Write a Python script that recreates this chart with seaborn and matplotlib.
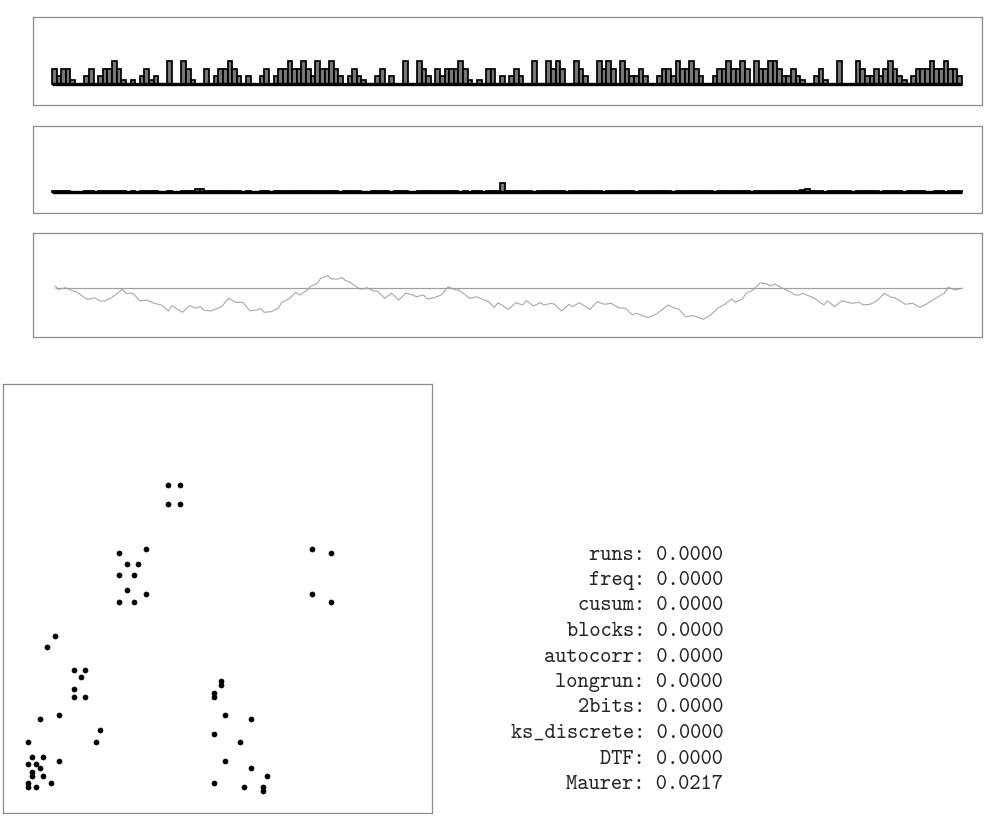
import matplotlib
matplotlib.use("Agg")
import matplotlib.pyplot as plt
import seaborn as sns

# bar heights, top strip
byte_counts = [4, 2, 4, 4, 1, 0, 0, 2, 4, 0, 2, 4, 4, 6, 4, 1, 0, 1, 0, 2,
               4, 1, 2, 0, 0, 6, 0, 0, 6, 4, 1, 0,
               0, 4, 0, 2, 4, 4, 6, 4, 2, 0, 2, 0, 0, 2, 4, 0, 2, 4, 4, 6,
               4, 4, 6, 4, 2, 6, 4, 4, 6, 4, 2, 0, 2, 4,
               2, 1, 0, 0, 2, 4, 0, 2, 0, 0, 6, 0, 0, 6, 4, 2, 0, 4, 2, 4,
               4, 4, 6, 4, 1, 0, 1, 0, 4, 4, 0, 2,
               0, 2, 4, 2, 0, 0, 6, 0, 0, 6, 4, 6, 4, 0, 0, 6, 4, 2, 0, 0,
               6, 4, 6, 4, 0, 6, 4, 2, 2, 4, 2, 0, 0, 2, 4, 4, 2, 6, 4, 4,
               6, 4, 2, 0, 0, 2, 4, 4, 6, 4, 4, 6, 4, 0, 6, 4, 4, 6, 6, 4,
               2, 2, 4, 2, 1, 0, 0, 2, 4, 1, 0, 0, 6, 0, 0, 0, 6, 4, 2, 2,
               4, 2, 4, 6, 4, 2, 1, 0, 2, 4, 4, 4, 6, 4, 4, 6, 4, 4, 2]

# bar heights, second strip
run_counts = [0.3, 0.3, 0.3, 0.3, 0, 0, 0, 0.3, 0.3, 0, 0.3, 0.3, 0.3, 0.3, 0.3, 0.3, 0, 0.3, 0, 0.3,
              0.3, 0.3, 0.3, 0, 0, 0.3, 0, 0, 0.3, 0.3, 0.3, 0.7, 0.7, 0.3, 0.3, 0.3, 0.3, 0.3, 0.3, 0.3,
              0.3, 0, 0.3, 0, 0, 0.3, 0.3, 0, 0.3, 0.3, 0.3, 0.3, 0.3, 0.3, 0.3, 0.3, 0.3, 0.3, 0.3, 0.3,
              0.3, 0.3, 0, 0.3, 0.3, 0.3, 0.3, 0, 0, 0.3, 0.3, 0.3, 0.3, 0, 0.3, 0.3, 0.3, 0, 0, 0.3,
              0.3, 0.3, 0.3, 0.3, 0.3, 0.3, 0.3, 0.3, 0, 0.3, 0, 0.3, 0.3, 0, 0.3, 0.3, 0.3, 2.5, 0.3, 0.3,
              0.3, 0.3, 0.3, 0.3, 0, 0.3, 0.3, 0.3, 0.3, 0.3, 0.3, 0, 0.3, 0.3, 0.3, 0.3, 0.3, 0.3, 0.3, 0,
              0.3, 0.3, 0.3, 0.3, 0.3, 0.3, 0, 0.3, 0.3, 0.3, 0.3, 0.3, 0.3, 0.3, 0, 0.3, 0.3, 0.3, 0.3, 0.3,
              0.3, 0.3, 0.3, 0, 0.3, 0.3, 0.3, 0.3, 0.3, 0.3, 0.3, 0, 0.3, 0.3, 0.3, 0.3, 0.3, 0.3, 0.3, 0.3,
              0.3, 0.3, 0.5, 0.8, 0.3, 0.3, 0.3, 0, 0.3, 0.3, 0.3, 0.3, 0.3, 0, 0.3, 0.3, 0.3, 0.3, 0.3, 0,
              0.3, 0.3, 0.3, 0.3, 0, 0.3, 0.3, 0.3, 0.3, 0, 0, 0.3, 0.3, 0, 0.3, 0.3, 0.3]

# cumulative sum walk
walk_step = [0, 1, 3, 5, 6, 9, 10, 11, 13, 14, 16, 19, 20, 22, 24, 26, 28, 30, 32, 33,
             36, 38, 40, 41, 42, 44, 47, 49, 51, 53, 55, 57, 58, 59, 61, 63, 64, 66, 68, 69,
             71, 72, 74, 75, 77, 78, 80, 81, 82, 83, 86, 87, 88, 90, 91, 93, 95, 97, 99, 101,
             102, 104, 105, 107, 109, 111, 113, 114, 117, 118, 119, 121, 122, 124, 125, 128, 130, 132, 133, 135,
             137, 138, 140, 141, 143, 145, 146, 148, 151, 153, 155, 157, 159, 161, 163, 164, 167, 168, 170, 173,
             175, 176, 178, 180, 181, 183, 185, 187, 189, 191, 192, 194, 195, 197, 199, 201, 202, 203, 205, 206,
             209, 210, 211, 214, 215, 217, 218, 220, 222, 223, 225, 227, 228, 230, 232, 234, 236, 237, 240, 242,
             244, 246, 248, 250, 251, 252, 254, 255, 256]
walk_value = [2.3, -1.0, 0.6, -2.7, -3.4, -11.0, -10.7, -9.4, -12.7, -12.7, -9.4, -1.0, -5.0, -5.0, -12.7, -11.7, -15.0, -16.7, -22.7, -17.4,
              -24.0, -17.4, -20.0, -18.4, -21.7, -22.7, -18.4, -10.0, -14.0, -14.0, -22.4, -21.7, -20.0, -24.0, -23.4, -20.0, -14.0, -10.7, -4.0, -6.7,
              -2.4, 1.6, 5.0, 10.0, 12.6, 9.3, 9.3, 11.0, 7.6, 6.6, -0.7, -0.7, 0.6, -2.7, -2.7, -10.0, -5.0, -11.7, -5.0, -6.7,
              -8.4, -6.7, -10.7, -9.4, -6.7, 1.6, -1.7, -1.7, -10.0, -9.4, -8.4, -11.7, -12.4, -19.0, -14.4, -21.0, -14.4, -16.7, -12.4, -17.7,
              -14.4, -16.7, -15.0, -16.0, -22.7, -16.0, -18.4, -14.4, -21.0, -13.4, -16.0, -15.0, -19.4, -20.0, -26.7, -25.0, -29.0, -28.4, -25.0, -16.7,
              -20.0, -20.7, -28.4, -27.4, -28.4, -31.0, -26.7, -20.0, -16.0, -10.7, -14.0, -10.7, -5.0, -1.7, 5.6, 4.3, 2.3, 4.3, 0.6, -1.0,
              -6.7, -6.7, -5.0, -9.4, -11.7, -16.7, -12.4, -18.4, -12.4, -13.4, -15.0, -14.0, -16.7, -16.0, -12.4, -5.0, -9.0, -9.4, -16.0, -15.0,
              -19.0, -15.7, -11.0, -6.7, -5.0, 1.0, -1.7, -0.7, 0.0]

# consecutive pairs
pair_x = [98.7, 105.4, 98.7, 105.4,
          69.2, 85.1, 73.8, 80.8, 69.2, 78.4, 73.8, 85.1, 69.2, 78.4,
          184.4, 195.5, 184.4, 195.5,
          31.0, 26.5, 42.4, 49.1, 46.7, 42.4, 42.4, 49.1, 21.9, 33.2, 58.1, 55.7, 15.1,
          17.5, 24.1, 33.2, 15.1, 19.7, 21.9, 17.5, 17.5, 24.1, 28.8, 15.1, 15.1, 19.7,
          130.1, 130.1, 125.7, 125.7, 132.5, 148.2, 125.7, 141.4, 132.5, 148.2, 157.3, 125.7, 143.6, 154.9, 154.9]
pair_y = [195.7, 195.7, 184.6, 184.6,
          155.3, 157.5, 148.4, 148.4, 141.8, 141.8, 132.9, 130.5, 125.9, 125.9,
          157.5, 155.3, 130.5, 125.9,
          105.6, 98.9, 85.3, 85.3, 81.0, 74.0, 69.4, 69.4, 56.1, 58.3, 49.3, 42.6, 42.6,
          33.4, 33.4, 31.2, 29.0, 29.0, 26.7, 24.5, 22.1, 22.1, 17.7, 17.7, 15.5, 15.5,
          78.8, 76.4, 71.8, 69.4, 58.3, 56.1, 46.9, 42.6, 31.2, 26.7, 22.1, 17.7, 15.5, 15.5, 13.3]

test_names = ["runs", "freq", "cusum", "blocks", "autocorr", "longrun", "2bits",
              "ks_discrete", "DTF", "Maurer"]
test_pvalues = [0.0, 0.0, 0.0, 0.0, 0.0, 0.0, 0.0, 0.0, 0.0, 0.0217]

sns.set_style("white")
fig = plt.figure(figsize=(9.97, 8.17), dpi=100)

W, H = 997, 817


def box(x0, y0, x1, y1):
    return fig.add_axes([x0 / W, 1 - y1 / H, (x1 - x0) / W, (y1 - y0) / H])


def frame(ax):
    ax.set_xticks([])
    ax.set_yticks([])
    ax.set_xlabel("")
    ax.set_ylabel("")
    for s in ax.spines.values():
        s.set_visible(True)
        s.set_color("#8c8c8c")
        s.set_linewidth(0.9)


def bar_strip(ax, values):
    n = len(values)
    sns.barplot(x=list(range(n)), y=values, ax=ax, color="#767676", saturation=1,
                edgecolor="black", linewidth=1.25, width=1.0)
    ax.hlines(0, -0.5, n - 0.5, color="black", lw=2.4)
    ppb = 910 / n
    ax.set_xlim(-0.5 - 19 / ppb, n - 0.5 + 20 / ppb)
    ax.set_ylim(-5.6, 17.7)
    frame(ax)


ax1 = box(33, 17, 982, 105)
bar_strip(ax1, byte_counts)

ax2 = box(33, 126, 982, 213)
bar_strip(ax2, run_counts)

ax3 = box(33, 233, 982, 337)
sns.lineplot(x=walk_step, y=walk_value, ax=ax3, color="#a8a8a8", lw=0.8)
ax3.hlines(0, walk_step[0], walk_step[-1], color="#a0a0a0", lw=0.9)
ax3.set_xlim(-6.2, 261.6)
ax3.set_ylim(-48.7, 55.3)
frame(ax3)

ax4 = box(3, 384, 432, 813)
sns.scatterplot(x=pair_x, y=pair_y, ax=ax4, color="black", s=17, linewidth=0)
ax4.set_xlim(0, 256)
ax4.set_ylim(0, 256)
frame(ax4)

for i, (name, p) in enumerate(zip(test_names, test_pvalues)):
    fig.text(723 / W, 1 - (555 + i * 25.5) / H, f"{name}: {p:.4f}",
             ha="right", va="center", family="cmtt10", fontsize=15.4)

fig.savefig("out.png", dpi=100)
